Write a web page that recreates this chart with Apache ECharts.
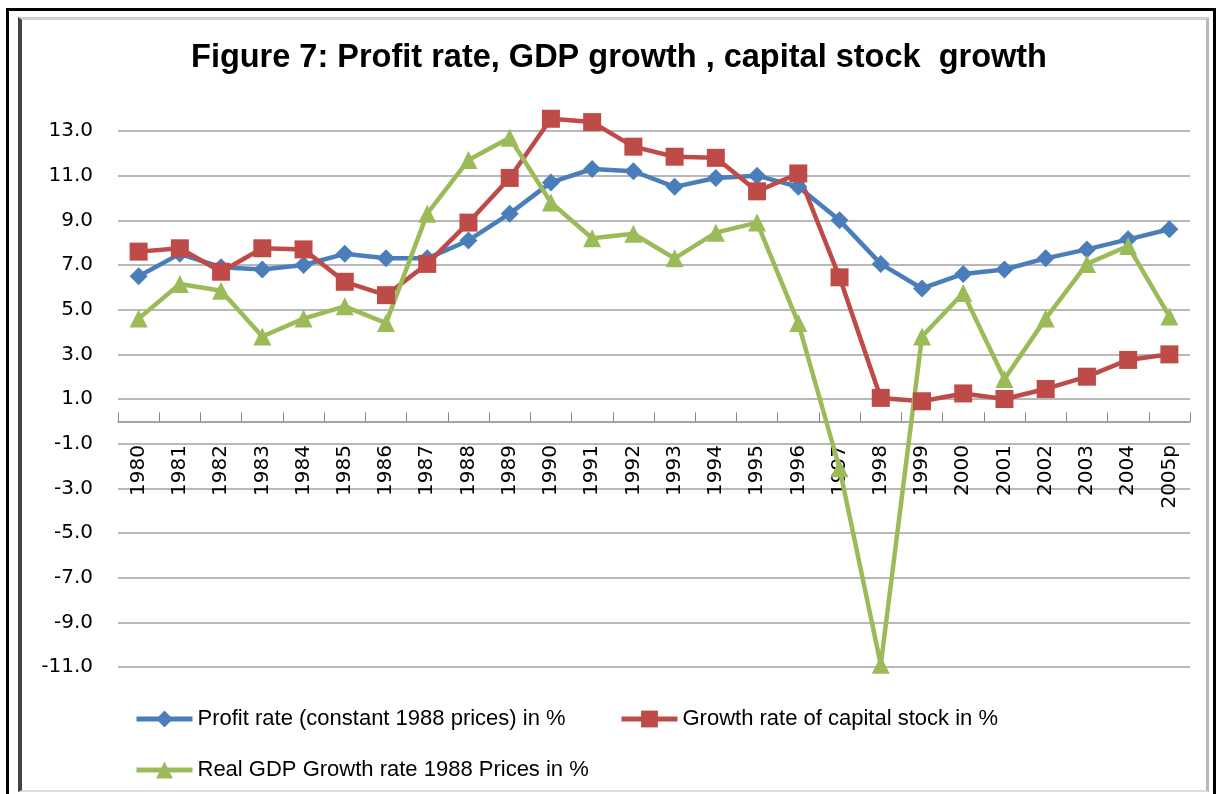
<!DOCTYPE html>
<html>
<head>
<meta charset="utf-8">
<script src="https://cdn.jsdelivr.net/npm/echarts@6/dist/echarts.min.js"></script>
<style>
    body { margin: 0; background: #fff; }
    #outer { position: absolute; left: 6px; top: 8px; width: 1210px; height: 800px; border-left: 3px solid #000; border-top: 3px solid #000; border-right: 3px solid #000; box-sizing: border-box; }
    #inner { position: absolute; left: 18px; top: 17px; width: 1191px; height: 775px; border-left: 4px solid #444; border-top: 3px solid #d0d0d0; border-right: 3px solid #b8b8b8; border-bottom: 2px solid #ddd; box-sizing: border-box; }
    #main { position: absolute; left: 0; top: 0; width: 1219px; height: 794px; }
</style>
</head>
<body>
<div id="outer"></div>
<div id="inner"></div>
<div id="main"></div>
<script>
var years = ['1980', '1981', '1982', '1983', '1984', '1985', '1986', '1987', '1988', '1989', '1990', '1991', '1992',
    '1993', '1994', '1995', '1996', '1997', '1998', '1999', '2000', '2001', '2002', '2003', '2004', '2005p'];
var profitRate = [6.5, 7.5, 6.9, 6.8, 7.0, 7.5, 7.3, 7.3, 8.1, 9.3, 10.7, 11.3, 11.2,
    10.5, 10.9, 11.0, 10.5, 9.0, 7.05, 5.95, 6.6, 6.8, 7.3, 7.7, 8.15, 8.6];
var capitalGrowth = [7.6, 7.75, 6.7, 7.75, 7.7, 6.25, 5.65, 7.05, 8.9, 10.9, 13.55, 13.4, 12.3,
    11.85, 11.8, 10.3, 11.1, 6.45, 1.05, 0.9, 1.25, 1.0, 1.45, 2.0, 2.75, 3.0];
var gdpGrowth = [4.6, 6.15, 5.85, 3.8, 4.6, 5.15, 4.4, 9.3, 11.7, 12.7, 9.8, 8.2, 8.4,
    7.3, 8.45, 8.9, 4.4, -2.1, -10.9, 3.8, 5.75, 1.9, 4.6, 7.05, 7.85, 4.7];
var yTicks = [-11, -9, -7, -5, -3, -1, 1, 3, 5, 7, 9, 11, 13];

var names = ['Profit rate (constant 1988 prices) in %', 'Growth rate of capital stock in %', 'Real GDP Growth rate 1988 Prices in %'];
var font = "'Liberation Sans', sans-serif";
var axisFont = "'DejaVu Sans', sans-serif";

var myChart = echarts.init(document.getElementById('main'));
var legendBase = {
    orient: 'horizontal',
    itemWidth: 56,
    itemHeight: 21,
    itemGap: 4,
    lineStyle: { width: 5 },
    textStyle: { fontSize: 22, color: '#000', fontFamily: font }
};
var option = {
    animation: false,
    title: {
        text: 'Figure 7: Profit rate, GDP growth , capital stock  growth',
        left: 614,
        top: 37,
        textAlign: 'center',
        textStyle: { fontSize: 32.5, fontWeight: 'bold', color: '#000', fontFamily: font }
    },
    legend: [
        Object.assign({ data: [names[0]], left: 129, top: 703 }, legendBase),
        Object.assign({ data: [names[1]], left: 614, top: 703 }, legendBase),
        Object.assign({ data: [names[2]], left: 129, top: 754 }, legendBase)
    ],
    grid: { left: 118, right: 29, top: 108.7, bottom: 127 },
    xAxis: {
        type: 'category',
        data: years,
        boundaryGap: true,
        axisLine: { onZero: true, lineStyle: { color: '#868686', width: 1.5 } },
        axisTick: { show: true, inside: true, length: 9, lineStyle: { color: '#868686' } },
        // labels sit under the zero line, not under the plot
        axisLabel: { rotate: 90, interval: 0, margin: -222, fontSize: 20, color: '#000', fontFamily: axisFont },
        splitLine: { show: false }
    },
    yAxis: {
        type: 'value',
        min: -11,
        max: 14,
        interval: 1,
        axisLine: { show: false },
        axisTick: { show: false },
        axisLabel: {
            margin: 25,
            fontSize: 20,
            color: '#000',
            fontFamily: axisFont,
            formatter: function (v) {
                return yTicks.indexOf(v) >= 0 ? v.toFixed(1) : '';
            }
        },
        splitLine: { show: true, lineStyle: { color: ['#a0a0a0', 'rgba(0,0,0,0)'], width: 1.5 } }
    },
    series: [{
        name: names[0],
        type: 'line',
        data: profitRate,
        symbol: 'diamond',
        symbolSize: 18,
        lineStyle: { color: '#4a7ebb', width: 4.5 },
        itemStyle: { color: '#4a7ebb' }
    }, {
        name: names[1],
        type: 'line',
        data: capitalGrowth,
        symbol: 'rect',
        symbolSize: 18,
        lineStyle: { color: '#be4b48', width: 4.5 },
        itemStyle: { color: '#be4b48' }
    }, {
        name: names[2],
        type: 'line',
        data: gdpGrowth,
        symbol: 'triangle',
        symbolSize: 18,
        lineStyle: { color: '#9bbb59', width: 4.5 },
        itemStyle: { color: '#9bbb59' }
    }]
};
myChart.setOption(option);
</script>
</body>
</html>
